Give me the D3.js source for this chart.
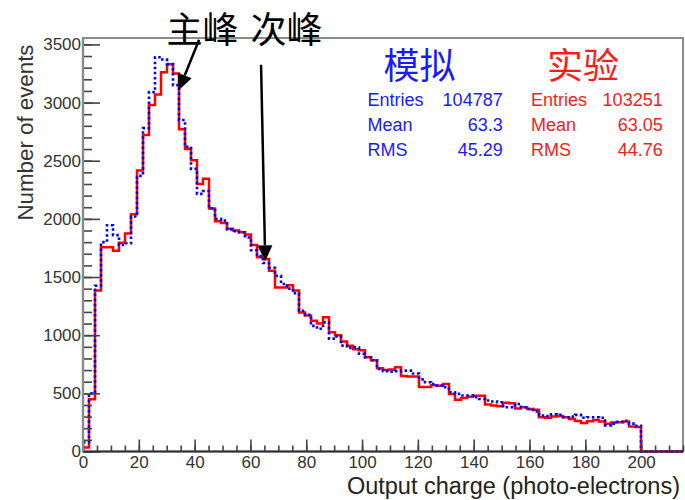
<!DOCTYPE html>
<html lang="zh">
<head>
<meta charset="UTF-8">
<title>Output charge</title>
<script src="https://cdn.jsdelivr.net/npm/d3@7"></script>
<style>
  body { margin: 0; background: #fff; }
  svg { display: block; font-family: "Liberation Sans", Arial, sans-serif; }
</style>
</head>
<body>
<script>
// histogram: 100 bins over 0..215 photo-electrons
const xRange = [0, 215]
const nBins = 100
const yMax = 3555

// simulation (blue, dotted)
const simCounts = [
  80, 500, 1425, 1800, 1945, 1860, 1775, 1790, 2020, 2370,
  2780, 3090, 3390, 3370, 3330, 3150, 2850, 2620, 2430, 2215,
  2240, 2090, 2000, 1985, 1910, 1895, 1885, 1840, 1730, 1680,
  1620, 1580, 1510, 1440, 1400, 1360, 1210, 1175, 1080, 1055,
  1110, 970, 990, 910, 890, 895, 840, 810, 785, 710,
  690, 685, 690, 695, 695, 670, 620, 595, 580, 566,
  552, 509, 495, 481, 481, 466, 452, 438, 430, 423,
  380, 380, 409, 380, 366, 345, 310, 305, 320, 315,
  295, 300, 315, 290, 295, 295, 290, 225, 240, 255,
  265, 240, 220, 0, 0, 0, 0, 0, 0, 0
]

// experiment (red, solid)
const expCounts = [
  35, 450, 1385, 1755, 1755, 1725, 1795, 1875, 2040, 2415,
  2720, 2980, 3070, 3260, 3330, 3250, 2770, 2600, 2505, 2300,
  2345, 2090, 1980, 1965, 1915, 1900, 1885, 1865, 1775, 1670,
  1655, 1555, 1410, 1410, 1430, 1385, 1195, 1170, 1125, 1100,
  1155, 1025, 1000, 945, 910, 880, 870, 810, 785, 715,
  700, 705, 725, 650, 645, 645, 555, 555, 570, 565,
  580, 495, 445, 460, 470, 480, 480, 405, 395, 390,
  420, 415, 370, 380, 365, 360, 295, 290, 300, 305,
  295, 280, 262, 245, 260, 270, 258, 238, 250, 252,
  258, 215, 210, 0, 0, 0, 0, 0, 0, 0
]

const xTicks = d3.range(0, 201, 20)
const xMinorTicks = d3.range(0, 216, 5)
const yTicks = d3.range(0, 3501, 500)
const yMinorTicks = d3.range(0, 3501, 100)

const simStats = [["Entries", "104787"], ["Mean", "63.3"], ["RMS", "45.29"]]
const expStats = [["Entries", "103251"], ["Mean", "63.05"], ["RMS", "44.76"]]

// arrows in data coordinates: [from, to]
const arrows = [
  {from: [41.6, 3540], to: [34.3, 3105]},
  {from: [63.8, 3325], to: [65.3, 1635]}
]

const width = 685
const height = 500
const svg = d3.select("body").append("svg").attr("width", width).attr("height", height)

const x = d3.scaleLinear().domain(xRange).range([83, 683])
const y = d3.scaleLinear().domain([0, yMax]).range([451.5, 38])
const binW = (xRange[1] - xRange[0]) / nBins

// frame
svg.append("rect")
    .attr("x", x(xRange[0])).attr("y", y(yMax))
    .attr("width", x(xRange[1]) - x(xRange[0])).attr("height", y(0) - y(yMax))
    .attr("fill", "none").attr("stroke", "#8a8a8a").attr("stroke-width", 2)

// histograms
function stepPoints(counts) {
    const pts = counts.map((c, i) => [xRange[0] + i * binW, c])
    pts.push([xRange[1], counts[counts.length - 1]])
    return pts
}
const line = d3.line().x(d => x(d[0])).y(d => y(d[1])).curve(d3.curveStepAfter)

svg.append("path")
    .datum(stepPoints(expCounts))
    .attr("d", line)
    .attr("fill", "none").attr("stroke", "#ff0000").attr("stroke-width", 2.5)

svg.append("path")
    .datum(stepPoints(simCounts))
    .attr("d", line)
    .attr("fill", "none").attr("stroke", "#0000ff").attr("stroke-width", 2.6)
    .attr("stroke-dasharray", "2.5,2.6")

// axes (ticks inside the frame)
function styleAxis(g) {
    g.select(".domain").remove()
    g.selectAll(".tick line").attr("stroke", "#444").attr("stroke-width", 1.6)
    g.selectAll(".tick text").attr("fill", "#333").attr("font-size", 17)
        .attr("font-family", "Liberation Sans, Arial, sans-serif")
}

svg.append("g").attr("transform", `translate(0,${y(0)})`)
    .call(d3.axisBottom(x).tickValues(xMinorTicks).tickSize(-6).tickFormat(""))
    .call(styleAxis)
svg.append("g").attr("transform", `translate(0,${y(0)})`)
    .call(d3.axisBottom(x).tickValues(xTicks).tickSize(-12).tickPadding(4).tickFormat(d3.format("d")))
    .call(styleAxis)

svg.append("g").attr("transform", `translate(${x(0)},0)`)
    .call(d3.axisLeft(y).tickValues(yMinorTicks).tickSize(-9).tickFormat(""))
    .call(styleAxis)
svg.append("g").attr("transform", `translate(${x(0)},0)`)
    .call(d3.axisLeft(y).tickValues(yTicks).tickSize(-17).tickPadding(2).tickFormat(d3.format("d")))
    .call(styleAxis)

// axis lines
svg.append("line")
    .attr("x1", x(xRange[0])).attr("x2", x(xRange[1]))
    .attr("y1", y(0)).attr("y2", y(0))
    .attr("stroke", "#333").attr("stroke-width", 2)
svg.append("line")
    .attr("x1", x(0)).attr("x2", x(0))
    .attr("y1", y(0)).attr("y2", y(yMax))
    .attr("stroke", "#8a8a8a").attr("stroke-width", 2.4)

// axis titles
svg.append("text")
    .attr("x", 680).attr("y", 494)
    .attr("text-anchor", "end")
    .attr("font-size", 23.5).attr("fill", "#222")
    .text("Output charge (photo-electrons)")
svg.append("text")
    .attr("transform", "translate(33,132.5) rotate(-90)")
    .attr("text-anchor", "middle")
    .attr("font-size", 22.3).attr("fill", "#333")
    .text("Number of events")

// stats boxes
function statsBox(label, stats, colour, x0, x1) {
    const g = svg.append("g")
    g.append("text")
        .attr("x", x0 + 16).attr("y", 79)
        .attr("font-family", "Noto Sans CJK SC, sans-serif")
        .attr("font-size", 36).attr("fill", colour)
        .text(label)
    stats.forEach((s, i) => {
        g.append("text").attr("x", x0).attr("y", 106 + i * 25)
            .attr("font-size", 18).attr("fill", colour).text(s[0])
        g.append("text").attr("x", x1).attr("y", 106 + i * 25)
            .attr("text-anchor", "end")
            .attr("font-size", 18).attr("fill", colour).text(s[1])
    })
}
statsBox("模拟", simStats, "#1a1aff", 367.5, 502.7)
statsBox("实验", expStats, "#ff1a1a", 531, 662.7)

// annotations
svg.append("text")
    .attr("x", 166.5).attr("y", 42.5)
    .attr("font-family", "Noto Sans CJK SC, sans-serif")
    .attr("font-size", 36).attr("fill", "#000")
    .text("主峰")
svg.append("text")
    .attr("x", 250.5).attr("y", 42.5)
    .attr("font-family", "Noto Sans CJK SC, sans-serif")
    .attr("font-size", 36).attr("fill", "#000")
    .text("次峰")

arrows.forEach(a => {
    const x0 = x(a.from[0]), y0 = y(a.from[1])
    const x1 = x(a.to[0]), y1 = y(a.to[1])
    const len = Math.hypot(x1 - x0, y1 - y0)
    const ux = (x1 - x0) / len, uy = (y1 - y0) / len
    const headL = 16, headW = 7.5
    const bx = x1 - ux * headL, by = y1 - uy * headL
    svg.append("line")
        .attr("x1", x0).attr("y1", y0).attr("x2", bx).attr("y2", by)
        .attr("stroke", "#000").attr("stroke-width", 2.5)
    svg.append("path")
        .attr("d", `M${x1},${y1}L${bx - uy * headW},${by + ux * headW}L${bx + uy * headW},${by - ux * headW}Z`)
        .attr("fill", "#000")
})
</script>
</body>
</html>
